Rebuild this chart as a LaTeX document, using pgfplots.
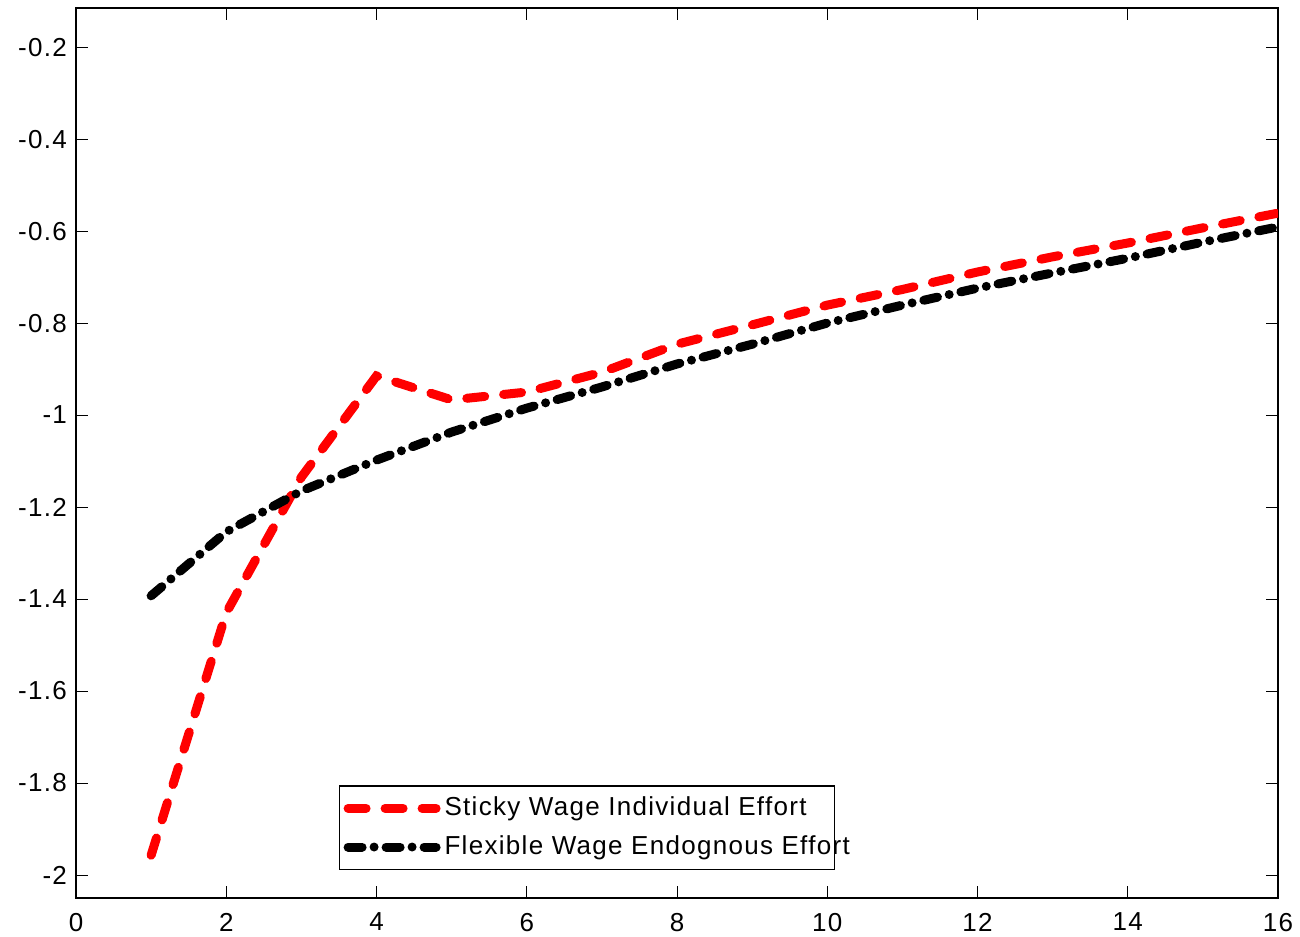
\documentclass[border=0pt]{standalone}
\usepackage{fontspec}
\setmainfont{Liberation Sans}[LetterSpace=5]
\usepackage{pgfplots}
\pgfplotsset{compat=1.18}
\begin{document}
\fontsize{13bp}{15bp}\selectfont
\begin{tikzpicture}
\path[use as bounding box] (-38bp,-19.5bp) rectangle (612bp,449bp);
\begin{axis}[
  scale only axis,
  width=601bp, height=445bp,
  xmin=0, xmax=16, ymin=-2.05, ymax=-0.115,
  xtick={0,2,...,16},
  ytick={-2,-1.8,-1.6,-1.4,-1.2,-1,-0.8,-0.6,-0.4,-0.2},
  tick align=inside,
  major tick length=6bp,
  tick style={black, line width=0.5bp},
  axis line style={black, line width=0.7bp},
  /pgf/number format/assume math mode=true,
  ticklabel style={font=\fontsize{13bp}{15bp}\selectfont},
  xticklabel style={yshift=-3bp},
  legend style={at={(0.2188,0.0315)}, anchor=south west, draw=black, line width=0.6bp,
    font=\fontsize{13bp}{15bp}\selectfont, inner xsep=2bp, inner ysep=3.5bp,
    row sep=4bp, legend cell align=left},
  legend image code/.code={\draw[#1] (0bp,0bp) -- (44bp,0bp);},
]
\addplot[red, line width=4.5bp, line cap=round, dash pattern=on 9bp off 9.5bp] coordinates {
(1,-1.957) (2,-1.43) (3,-1.135) (4,-0.915) (5,-0.967) (6,-0.95) (7,-0.907) (8,-0.846)
(9,-0.804) (10,-0.761) (11,-0.727) (12,-0.689) (13,-0.656) (14,-0.626) (15,-0.593) (16,-0.561)
};
\addlegendentry{\makebox[191bp][l]{Sticky Wage Individual Effort}}
\addplot[black, line width=4.5bp, line cap=round, dash pattern=on 7bp off 6bp on 0bp off 6bp] coordinates {
(1,-1.393) (2,-1.254) (3,-1.165) (4,-1.098) (5,-1.037) (6,-0.985) (7,-0.939) (8,-0.889)
(9,-0.846) (10,-0.800) (11,-0.761) (12,-0.724) (13,-0.691) (14,-0.659) (15,-0.624) (16,-0.591)
};
\addlegendentry{\makebox[191bp][l]{Flexible Wage Endognous Effort}}
\end{axis}
\end{tikzpicture}
\end{document}
